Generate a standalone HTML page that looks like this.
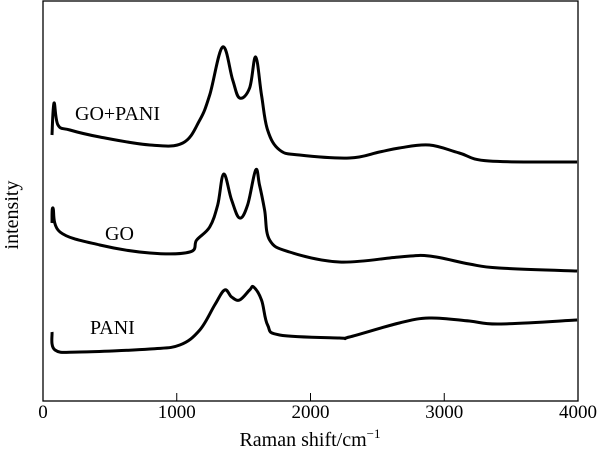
<!DOCTYPE html>
<html><head><meta charset="utf-8"><style>
html,body{margin:0;padding:0;background:#fff;}
svg{display:block;font-family:"Liberation Serif",serif;}
</style></head><body>
<svg id="chart" width="603" height="454" viewBox="0 0 603 454">
<rect x="43" y="1" width="535" height="400" fill="none" stroke="#000" stroke-width="1.3"/>
<g id="ticks"></g>
<g id="series"></g>
<text x="75" y="120" font-size="20">GO+PANI</text>
<text x="105" y="240" font-size="20">GO</text>
<text x="90" y="334" font-size="20">PANI</text>
<text transform="translate(18,215) rotate(-90)" text-anchor="middle" font-size="20">intensity</text>
<text x="310" y="446" text-anchor="middle" font-size="20">Raman shift/cm<tspan font-size="13" dy="-8">−1</tspan></text>
</svg>
<script>
const xTicks=[0,1000,2000,3000,4000];
const goPaniX=[67,82,112,201,425,799,1045,1172,1246,1343,1418,1470,1545,1590,1634,1679,1769,1918,2291,2515,2664,2888,3112,3336,3993];
const goPaniY=[266,298,276,271,264,256,258,281,306,354,321,303,313,344,306,271,251,246,243,249,253,256,248,240,239];
const goX=[67,75,127,425,799,1097,1149,1246,1306,1351,1410,1470,1530,1590,1619,1657,1694,1843,2216,2664,2888,3187,3410,3993];
const goY=[178,193,169,156,148,149,161,174,196,227,201,183,196,231,216,191,161,149,139,144,145,137,133,130];
const paniX=[67,90,276,799,1023,1172,1284,1358,1410,1470,1545,1575,1634,1679,1769,2216,2291,2664,2888,3187,3410,3993];
const paniY=[69,51,49,52,56,71,96,111,104,101,111,114,101,76,66,63,64,78,83,80,77,81];
const NS='http://www.w3.org/2000/svg';
function sx(v){return 43+v*(535/4000);}
function sy(v){return 401-v;}
const tg=document.getElementById('ticks');
xTicks.forEach(t=>{
  const l=document.createElementNS(NS,'line');
  
  
  l.setAttribute('x1',sx(t));l.setAttribute('x2',sx(t));l.setAttribute('y1',401);l.setAttribute('y2',393);
  l.setAttribute('stroke','#000');l.setAttribute('stroke-width','1');
  tg.appendChild(l);
  const tx=document.createElementNS(NS,'text');
  
  
  tx.setAttribute('x',sx(t));tx.setAttribute('y',418);tx.setAttribute('text-anchor','middle');tx.setAttribute('font-size','19');
  tx.textContent=t;tg.appendChild(tx);
});
function smoothPath(pts){
  let d='M'+pts[0][0].toFixed(1)+','+pts[0][1].toFixed(1);
  for(let i=0;i<pts.length-1;i++){
    const p0=pts[Math.max(0,i-1)],p1=pts[i],p2=pts[i+1],p3=pts[Math.min(pts.length-1,i+2)];
    const k=0.18;
    const c1=[p1[0]+(p2[0]-p0[0])*k,p1[1]+(p2[1]-p0[1])*k];
    const c2=[p2[0]-(p3[0]-p1[0])*k,p2[1]-(p3[1]-p1[1])*k];
    d+='C'+c1[0].toFixed(1)+','+c1[1].toFixed(1)+' '+c2[0].toFixed(1)+','+c2[1].toFixed(1)+' '+p2[0].toFixed(1)+','+p2[1].toFixed(1);
  }
  return d;
}
const sg=document.getElementById('series');
[[goPaniX,goPaniY,'series-go-pani'],[goX,goY,'series-go'],[paniX,paniY,'series-pani']].forEach(s=>{
  const p=document.createElementNS(NS,'path');
  
  
  p.setAttribute('d',smoothPath(s[0].map((x,i)=>[sx(x),sy(s[1][i])])));
  p.setAttribute('fill','none');p.setAttribute('stroke','#000');p.setAttribute('stroke-width','3');p.setAttribute('stroke-linejoin','round');
  sg.appendChild(p);
});
</script>
</body></html>
